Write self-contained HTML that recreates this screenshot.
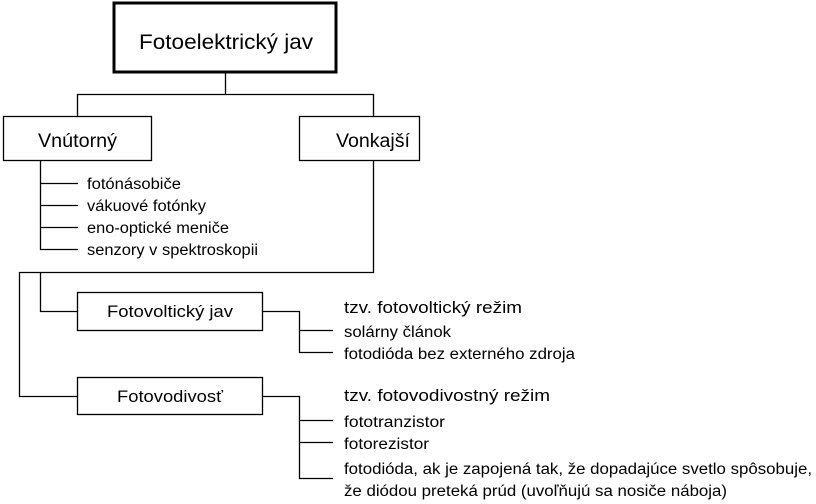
<!DOCTYPE html>
<html><head><meta charset="utf-8"><style>html,body{margin:0;padding:0;background:#fff}svg{display:block}</style></head>
<body>
<svg width="816" height="504" xmlns="http://www.w3.org/2000/svg" font-family="'Liberation Sans', sans-serif" fill="#000">
<g stroke="#000" stroke-width="1.3" fill="none">
<rect x="114" y="3" width="222" height="69" stroke-width="3"/>
<path d="M225.5 72V94.5M77.5 116V94.5H373.5V116"/>
<rect x="3.5" y="116.5" width="148" height="44"/>
<rect x="299.5" y="116.5" width="120" height="44"/>
<path d="M40.5 160V249.5H78M40.5 183.5H78M40.5 205.5H78M40.5 227.5H78"/>
<path d="M373.5 160V272.5H19.5V396.5H77M40.5 272.5V311.5H77"/>
<rect x="77.5" y="292.5" width="185" height="38"/>
<rect x="77.5" y="377.5" width="185" height="37"/>
<path d="M262 311.5H299.5V352.5H333M299.5 330.5H333"/>
<path d="M262 396.5H299.5V478.5H333M299.5 420.5H333M299.5 442.5H333"/>
</g>
<g font-size="21">
<text x="139" y="49" textLength="174" lengthAdjust="spacingAndGlyphs">Fotoelektrický jav</text>
</g>
<g font-size="19">
<text x="38" y="147" textLength="79" lengthAdjust="spacingAndGlyphs">Vnútorný</text>
<text x="336" y="147" textLength="74" lengthAdjust="spacingAndGlyphs">Vonkajší</text>
</g>
<g font-size="17">
<text x="107" y="317" textLength="126" lengthAdjust="spacingAndGlyphs">Fotovoltický jav</text>
<text x="117" y="402" textLength="106" lengthAdjust="spacingAndGlyphs">Fotovodivosť</text>
<text x="344" y="313" textLength="178" lengthAdjust="spacingAndGlyphs">tzv. fotovoltický režim</text>
<text x="344" y="401" textLength="206" lengthAdjust="spacingAndGlyphs">tzv. fotovodivostný režim</text>
</g>
<g font-size="15.5">
<text x="87" y="189" textLength="94" lengthAdjust="spacingAndGlyphs">fotónásobiče</text>
<text x="87" y="211" textLength="119" lengthAdjust="spacingAndGlyphs">vákuové fotónky</text>
<text x="87" y="233" textLength="142" lengthAdjust="spacingAndGlyphs">eno-optické meniče</text>
<text x="87" y="255" textLength="171" lengthAdjust="spacingAndGlyphs">senzory v spektroskopii</text>
<text x="344" y="337" textLength="107" lengthAdjust="spacingAndGlyphs">solárny článok</text>
<text x="344" y="359" textLength="231" lengthAdjust="spacingAndGlyphs">fotodióda bez externého zdroja</text>
<text x="344" y="427" textLength="101" lengthAdjust="spacingAndGlyphs">fototranzistor</text>
<text x="344" y="449" textLength="85" lengthAdjust="spacingAndGlyphs">fotorezistor</text>
<text x="344" y="474" textLength="468" lengthAdjust="spacingAndGlyphs">fotodióda, ak je zapojená tak, že dopadajúce svetlo spôsobuje,</text>
<text x="344" y="496" textLength="383" lengthAdjust="spacingAndGlyphs">že diódou preteká prúd (uvoľňujú sa nosiče náboja)</text>
</g>
</svg>
</body></html>
